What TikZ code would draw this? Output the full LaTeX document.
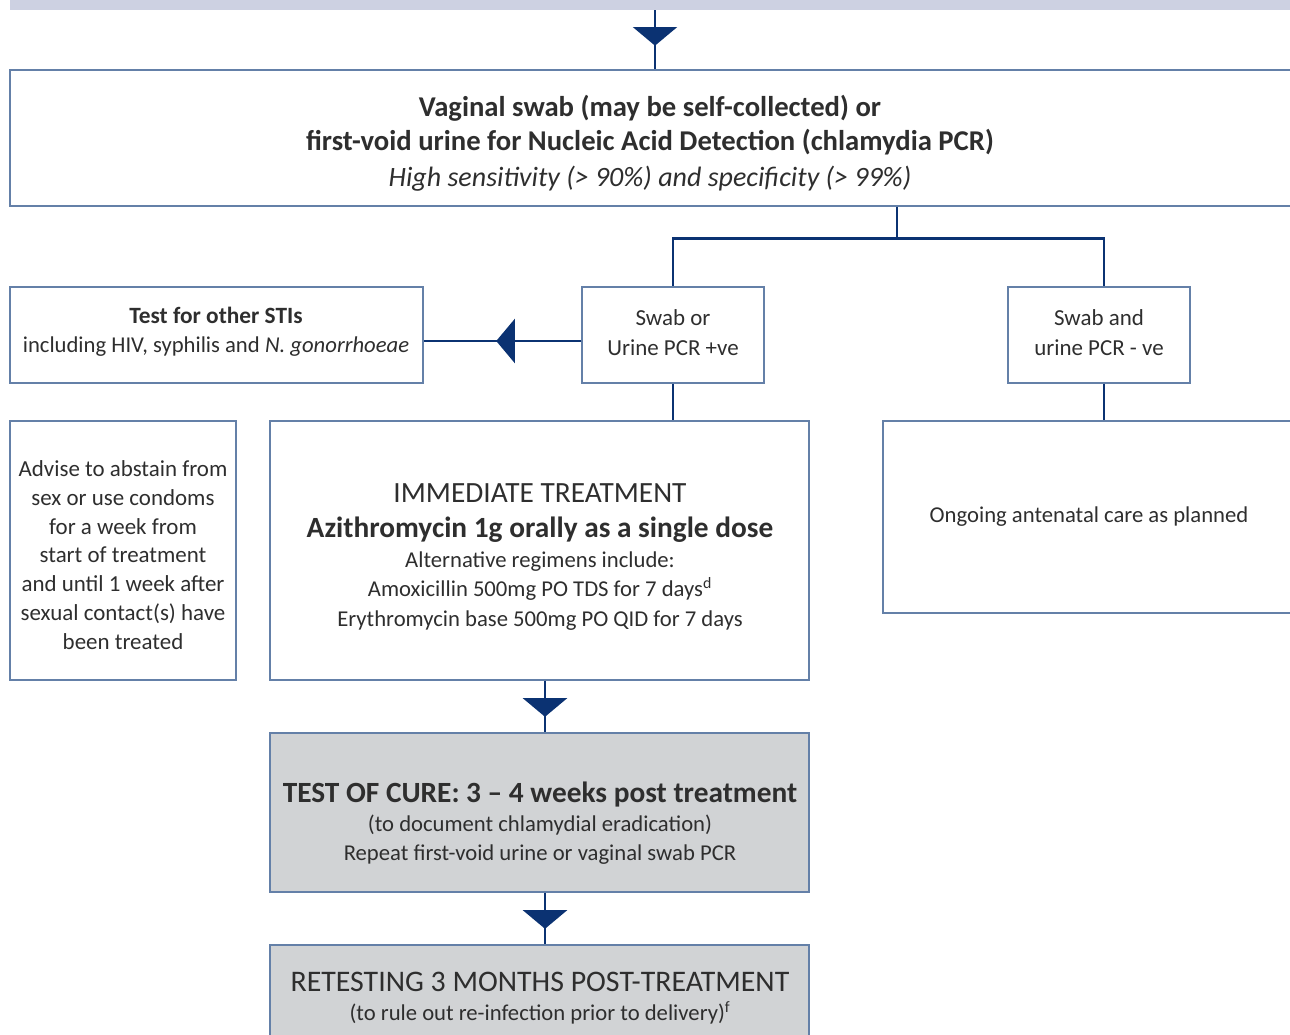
\documentclass[tikz,border=0pt]{standalone}
\usepackage{fontspec}
\setmainfont{Carlito}
\usetikzlibrary{arrows.meta,decorations.markings,fit}
\definecolor{navy}{HTML}{0B3272}
\definecolor{boxc}{HTML}{6480A8}
\definecolor{greyf}{HTML}{D1D3D5}
\definecolor{barc}{HTML}{CDD1E2}
\definecolor{txt}{HTML}{2E2E2E}
\begin{document}
\begin{tikzpicture}[x=0.75pt,y=-0.75pt,
  box/.style={draw=boxc, line width=1.1pt, inner sep=0pt},
  greybox/.style={box, fill=greyf},
  lbl/.style={text=txt, align=center, inner sep=0pt},
  conn/.style={draw=navy, line width=2.2pt},
  midarrow/.style={conn, postaction={decorate}, decoration={markings,
     mark=at position #1 with {\arrow[navy]{Triangle[width=33pt,length=14pt]}}}},
]
\useasboundingbox (0,0) rectangle (1290,1035);
\clip (0,0) rectangle (1290,1035);

% boxes
\node[fill=barc, inner sep=0pt, fit={(10,-10) (1300,10)}] (bar) {};
\node[box, fit={(10,70) (1310,206)}] (top) {};
\node[box, fit={(10,287) (423,383)}] (sti) {};
\node[box, fit={(582,287) (764,383)}] (pos) {};
\node[box, fit={(1008,287) (1190,383)}] (neg) {};
\node[box, fit={(10,421) (236,680)}] (adv) {};
\node[box, fit={(270,421) (809,680)}] (treat) {};
\node[box, fit={(883,421) (1310,613)}] (ong) {};
\node[greybox, fit={(270,733) (809,892)}] (cure) {};
\node[greybox, fit={(270,945) (809,1060)}] (retest) {};

% reference coordinates for connector positions
\coordinate (xa) at (655,0);
\coordinate (xb) at (897,0);
\coordinate (xc) at (545,0);
\coordinate (xd) at (1104,0);
\coordinate (ya) at (0,341);

% connectors
\draw[midarrow=0.6] (bar.south -| xa) -- (top.north -| xa);
\draw[conn] (top.south -| xb) -- ++(0,32) coordinate (split);
\draw[conn] (split) -| (pos.north);
\draw[conn] (split) -| (neg.north -| xd);
\draw[midarrow=0.54] (pos.west |- ya) -- (sti.east |- ya);
\draw[conn] (pos.south) -- (pos.south |- treat.north);
\draw[conn] (neg.south -| xd) -- (ong.north -| xd);
\draw[midarrow=0.7] (treat.south -| xc) -- (cure.north -| xc);
\draw[midarrow=0.7] (cure.south -| xc) -- (retest.north -| xc);

% texts
\node[lbl, font=\fontsize{21.5}{26}\selectfont] (toptxt) at (650,143)
  {{\bfseries Vaginal swab (may be self-collected) or}\\
   {\bfseries first-void urine for Nucleic Acid Detection (chlamydia PCR)}\\[0.5pt]
   {\fontsize{21}{26}\selectfont\itshape High sensitivity (> 90\%) and specificity (> 99\%)}};
\node[lbl, font=\fontsize{17}{22}\selectfont] (stitxt) at (216,332)
  {{\fontsize{17.5}{22}\selectfont\bfseries Test for other STIs}\\including HIV, syphilis and \textit{N. gonorrhoeae}};
\node[lbl, font=\fontsize{17.2}{22.5}\selectfont] (postxt) at (673,333)
  {Swab or\\Urine PCR +ve};
\node[lbl, font=\fontsize{17.2}{22.5}\selectfont] (negtxt) at (1099,333)
  {Swab and\\urine PCR - ve};
\node[lbl, font=\fontsize{17.2}{21.6}\selectfont] (advtxt) at (123,555)
  {Advise to abstain from\\sex or use condoms\\for a week from\\start of treatment\\and until 1 week after\\sexual contact(s) have\\been treated};
\node[lbl, font=\fontsize{17}{22.2}\selectfont] (treattxt) at (540,557)
  {{\fontsize{22}{26}\selectfont IMMEDIATE TREATMENT}\\[4pt]
   {\fontsize{22}{26}\selectfont\bfseries Azithromycin 1g orally as a single dose}\\
   Alternative regimens include:\\
   Amoxicillin 500mg PO TDS for 7 days\textsuperscript{d}\\
   Erythromycin base 500mg PO QID for 7 days};
\node[lbl, font=\fontsize{17}{22.5}\selectfont] (ongtxt) at (1089,517)
  {Ongoing antenatal care as planned};
\node[lbl, font=\fontsize{17}{22}\selectfont] (curetxt) at (540,823)
  {{\fontsize{22}{26}\selectfont\bfseries TEST OF CURE: 3 -- 4 weeks post treatment}\\
   (to document chlamydial eradication)\\
   Repeat first-void urine or vaginal swab PCR};
\node[lbl, font=\fontsize{17}{22}\selectfont] (retesttxt) at (540,998)
  {{\fontsize{22.4}{26}\selectfont RETESTING 3 MONTHS POST-TREATMENT}\\
   (to rule out re-infection prior to delivery)\textsuperscript{f}};
\end{tikzpicture}
\end{document}
